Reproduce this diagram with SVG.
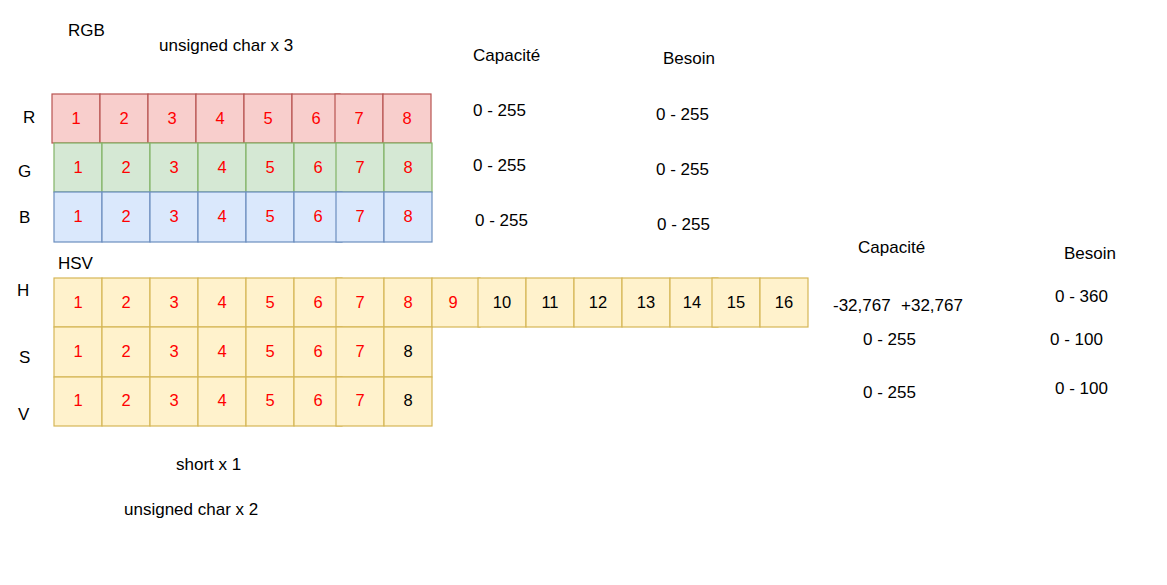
<svg xmlns="http://www.w3.org/2000/svg" width="1167" height="585" viewBox="0 0 1167 585">
<style>
text{font-family:"Liberation Sans",Arial,Helvetica,sans-serif;font-size:17px;fill:#000}
.r rect{fill:#f8cecc;stroke:#b85450;stroke-width:1.2}
.g rect{fill:#d5e8d4;stroke:#82b366;stroke-width:1.2}
.b rect{fill:#dae8fc;stroke:#6c8ebf;stroke-width:1.2}
.y rect{fill:#fff2cc;stroke:#d6b656;stroke-width:1.2}
.c text{text-anchor:middle;font-size:16.5px}
.red{fill:#ff0000}
</style>
<rect width="1167" height="585" fill="#ffffff"/>
<g id="labels">
<text x="68" y="36">RGB</text>
<text x="159" y="51">unsigned char x 3</text>
<text x="473" y="61">Capacité</text>
<text x="663" y="64">Besoin</text>
<text x="473" y="116">0 - 255</text>
<text x="473" y="171">0 - 255</text>
<text x="475" y="226">0 - 255</text>
<text x="656" y="120">0 - 255</text>
<text x="656" y="175">0 - 255</text>
<text x="657" y="230">0 - 255</text>
<text x="23" y="123">R</text>
<text x="18" y="177">G</text>
<text x="19" y="223">B</text>
<text x="58" y="269">HSV</text>
<text x="17" y="296">H</text>
<text x="19" y="363">S</text>
<text x="18" y="420">V</text>
<text x="858" y="253">Capacité</text>
<text x="1064" y="259">Besoin</text>
<text x="833" y="311">-32,767</text>
<text x="901" y="311">+32,767</text>
<text x="1055" y="302">0 - 360</text>
<text x="863" y="345">0 - 255</text>
<text x="1050" y="345">0 - 100</text>
<text x="863" y="398">0 - 255</text>
<text x="1055" y="394">0 - 100</text>
<text x="176" y="470">short x 1</text>
<text x="124" y="515">unsigned char x 2</text>
</g>
<g id="row-R" class="r c">
<g id="R1"><rect x="52" y="94" width="48" height="49"/><text class="red" x="76" y="124">1</text></g>
<g id="R2"><rect x="100" y="94" width="48" height="49"/><text class="red" x="124" y="124">2</text></g>
<g id="R3"><rect x="148" y="94" width="48" height="49"/><text class="red" x="172" y="124">3</text></g>
<g id="R4"><rect x="196" y="94" width="48" height="49"/><text class="red" x="220" y="124">4</text></g>
<g id="R5"><rect x="244" y="94" width="48" height="49"/><text class="red" x="268" y="124">5</text></g>
<g id="R6"><rect x="292" y="94" width="48" height="49"/><text class="red" x="316" y="124">6</text></g>
<g id="R7"><rect x="335" y="94" width="48" height="49"/><text class="red" x="359" y="124">7</text></g>
<g id="R8"><rect x="383" y="94" width="48" height="49"/><text class="red" x="407" y="124">8</text></g>
</g>
<g id="row-G" class="g c">
<g id="G1"><rect x="54" y="143" width="48" height="49"/><text class="red" x="78" y="173">1</text></g>
<g id="G2"><rect x="102" y="143" width="48" height="49"/><text class="red" x="126" y="173">2</text></g>
<g id="G3"><rect x="150" y="143" width="48" height="49"/><text class="red" x="174" y="173">3</text></g>
<g id="G4"><rect x="198" y="143" width="48" height="49"/><text class="red" x="222" y="173">4</text></g>
<g id="G5"><rect x="246" y="143" width="48" height="49"/><text class="red" x="270" y="173">5</text></g>
<g id="G6"><rect x="294" y="143" width="48" height="49"/><text class="red" x="318" y="173">6</text></g>
<g id="G7"><rect x="336" y="143" width="48" height="49"/><text class="red" x="360" y="173">7</text></g>
<g id="G8"><rect x="384" y="143" width="48" height="49"/><text class="red" x="408" y="173">8</text></g>
</g>
<g id="row-B" class="b c">
<g id="B1"><rect x="54" y="192" width="48" height="50"/><text class="red" x="78" y="222">1</text></g>
<g id="B2"><rect x="102" y="192" width="48" height="50"/><text class="red" x="126" y="222">2</text></g>
<g id="B3"><rect x="150" y="192" width="48" height="50"/><text class="red" x="174" y="222">3</text></g>
<g id="B4"><rect x="198" y="192" width="48" height="50"/><text class="red" x="222" y="222">4</text></g>
<g id="B5"><rect x="246" y="192" width="48" height="50"/><text class="red" x="270" y="222">5</text></g>
<g id="B6"><rect x="294" y="192" width="48" height="50"/><text class="red" x="318" y="222">6</text></g>
<g id="B7"><rect x="336" y="192" width="48" height="50"/><text class="red" x="360" y="222">7</text></g>
<g id="B8"><rect x="384" y="192" width="48" height="50"/><text class="red" x="408" y="222">8</text></g>
</g>
<g id="row-H" class="y c">
<g id="H1"><rect x="54" y="278" width="48" height="49"/><text class="red" x="78" y="308">1</text></g>
<g id="H2"><rect x="102" y="278" width="48" height="49"/><text class="red" x="126" y="308">2</text></g>
<g id="H3"><rect x="150" y="278" width="48" height="49"/><text class="red" x="174" y="308">3</text></g>
<g id="H4"><rect x="198" y="278" width="48" height="49"/><text class="red" x="222" y="308">4</text></g>
<g id="H5"><rect x="246" y="278" width="48" height="49"/><text class="red" x="270" y="308">5</text></g>
<g id="H6"><rect x="294" y="278" width="48" height="49"/><text class="red" x="318" y="308">6</text></g>
<g id="H7"><rect x="336" y="278" width="48" height="49"/><text class="red" x="360" y="308">7</text></g>
<g id="H8"><rect x="384" y="278" width="48" height="49"/><text class="red" x="408" y="308">8</text></g>
<g id="H9"><rect x="432" y="278" width="48" height="49"/><text class="red" x="453" y="308">9</text></g>
<g id="H10"><rect x="478" y="278" width="48" height="49"/><text x="502" y="308">10</text></g>
<g id="H11"><rect x="526" y="278" width="48" height="49"/><text x="550" y="308">11</text></g>
<g id="H12"><rect x="574" y="278" width="48" height="49"/><text x="598" y="308">12</text></g>
<g id="H13"><rect x="622" y="278" width="48" height="49"/><text x="646" y="308">13</text></g>
<g id="H14"><rect x="670" y="278" width="48" height="49"/><text x="692" y="308">14</text></g>
<g id="H15"><rect x="712" y="278" width="48" height="49"/><text x="736" y="308">15</text></g>
<g id="H16"><rect x="760" y="278" width="48" height="49"/><text x="784" y="308">16</text></g>
</g>
<g id="row-S" class="y c">
<g id="S1"><rect x="54" y="327" width="48" height="50"/><text class="red" x="78" y="357">1</text></g>
<g id="S2"><rect x="102" y="327" width="48" height="50"/><text class="red" x="126" y="357">2</text></g>
<g id="S3"><rect x="150" y="327" width="48" height="50"/><text class="red" x="174" y="357">3</text></g>
<g id="S4"><rect x="198" y="327" width="48" height="50"/><text class="red" x="222" y="357">4</text></g>
<g id="S5"><rect x="246" y="327" width="48" height="50"/><text class="red" x="270" y="357">5</text></g>
<g id="S6"><rect x="294" y="327" width="48" height="50"/><text class="red" x="318" y="357">6</text></g>
<g id="S7"><rect x="336" y="327" width="48" height="50"/><text class="red" x="360" y="357">7</text></g>
<g id="S8"><rect x="384" y="327" width="48" height="50"/><text x="408" y="357">8</text></g>
</g>
<g id="row-V" class="y c">
<g id="V1"><rect x="54" y="377" width="48" height="49"/><text class="red" x="78" y="406">1</text></g>
<g id="V2"><rect x="102" y="377" width="48" height="49"/><text class="red" x="126" y="406">2</text></g>
<g id="V3"><rect x="150" y="377" width="48" height="49"/><text class="red" x="174" y="406">3</text></g>
<g id="V4"><rect x="198" y="377" width="48" height="49"/><text class="red" x="222" y="406">4</text></g>
<g id="V5"><rect x="246" y="377" width="48" height="49"/><text class="red" x="270" y="406">5</text></g>
<g id="V6"><rect x="294" y="377" width="48" height="49"/><text class="red" x="318" y="406">6</text></g>
<g id="V7"><rect x="336" y="377" width="48" height="49"/><text class="red" x="360" y="406">7</text></g>
<g id="V8"><rect x="384" y="377" width="48" height="49"/><text x="408" y="406">8</text></g>
</g>
<g id="connectors"></g>
</svg>
